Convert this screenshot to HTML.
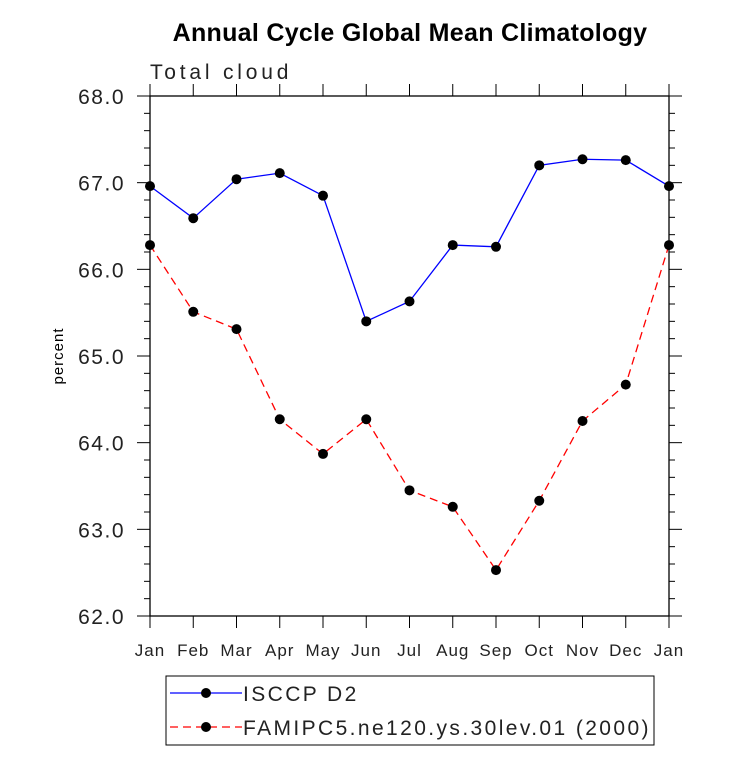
<!DOCTYPE html>
<html><head><meta charset="utf-8"><style>
body{margin:0;background:#fff;width:733px;height:766px;overflow:hidden}
text{font-family:"Liberation Sans",sans-serif}
</style></head><body>
<svg id="chart" width="733" height="766" xmlns="http://www.w3.org/2000/svg">
<text x="410" y="41" text-anchor="middle" font-size="25" font-weight="bold" letter-spacing="0.3">Annual Cycle Global Mean Climatology</text>
<text x="150" y="79" font-size="21" fill="#222" letter-spacing="3.8">Total cloud</text>
<text transform="translate(63,356) rotate(-90)" text-anchor="middle" font-size="15" letter-spacing="1">percent</text>
<g id="axes"></g>
<g id="series"></g>
<g>
<rect x="166" y="676" width="488" height="69" fill="none" stroke="#000" stroke-width="1"/>
<line x1="170" y1="693" x2="242" y2="693" stroke="#0000ff" stroke-width="1.3"/>
<circle cx="206" cy="693" r="5" fill="#000"/>
<text x="243" y="701" font-size="21" fill="#222" letter-spacing="2.4">ISCCP D2</text>
<line x1="170" y1="727" x2="242" y2="727" stroke="#ff0000" stroke-width="1.3" stroke-dasharray="8,5"/>
<circle cx="206" cy="727" r="5" fill="#000"/>
<text x="243" y="735" font-size="21" fill="#222" letter-spacing="2.4">FAMIPC5.ne120.ys.30lev.01 (2000)</text>
</g>
</svg>
<script>
const months=["Jan","Feb","Mar","Apr","May","Jun","Jul","Aug","Sep","Oct","Nov","Dec","Jan"];
const isccp=[66.96,66.59,67.04,67.11,66.85,65.40,65.63,66.28,66.26,67.20,67.27,67.26,66.96];
const famipc5=[66.28,65.51,65.31,64.27,63.87,64.27,63.45,63.26,62.53,63.33,64.25,64.67,66.28];
const yTicks=["62.0","63.0","64.0","65.0","66.0","67.0","68.0"];
const L=150,R=669,T=96,B=616,ymin=62,ymax=68;
const NS="http://www.w3.org/2000/svg";
const xs=i=>L+(R-L)*i/(months.length-1);
const ys=v=>B-(v-ymin)/(ymax-ymin)*(B-T);
function mk(tag,attrs,parent){const e=document.createElementNS(NS,tag);for(const k in attrs)e.setAttribute(k,attrs[k]);parent.appendChild(e);return e;}
const ax=document.getElementById('axes');
const box=mk('rect',{x:L,y:T,width:R-L,height:B-T,fill:'none',stroke:'#000','stroke-width':1.3},ax);


for(let v=ymin;v<=ymax+1e-9;v+=0.2){const y=ys(v);const maj=Math.abs(v-Math.round(v))<1e-6;const len=maj?13:6;
mk('line',{x1:L-len,y1:y,x2:L,y2:y,stroke:'#000'},ax);mk('line',{x1:R,y1:y,x2:R+len,y2:y,stroke:'#000'},ax);}
yTicks.forEach(t=>{const e=mk('text',{x:125,y:ys(parseFloat(t))+8,'text-anchor':'end','font-size':21,fill:'#222','letter-spacing':1.5},ax);e.textContent=t;

});
months.forEach((m,i)=>{const x=xs(i);mk('line',{x1:x,y1:B,x2:x,y2:B+12,stroke:'#000'},ax);mk('line',{x1:x,y1:T-12,x2:x,y2:T,stroke:'#000'},ax);
const e=mk('text',{x:x,y:656,'text-anchor':'middle','font-size':17,fill:'#222','letter-spacing':1},ax);e.textContent=m;

});
const sg=document.getElementById('series');
function draw(vals,color,dash,name){const pts=vals.map((v,i)=>xs(i)+','+ys(v)).join(' ');
const pl=mk('polyline',{points:pts,fill:'none',stroke:color,'stroke-width':1.3},sg);if(dash)pl.setAttribute('stroke-dasharray',dash);


vals.forEach((v,i)=>{const c=mk('circle',{cx:xs(i),cy:ys(v),r:5,fill:'#000'},sg);

});}
draw(isccp,'#0000ff',null,'isccp');
draw(famipc5,'#ff0000','8,5','famipc5');
</script>
</body></html>
